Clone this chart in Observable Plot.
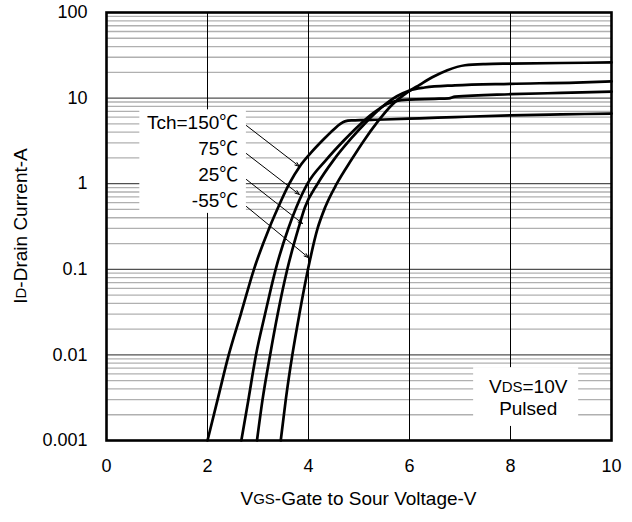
<!DOCTYPE html>
<html><head><meta charset="utf-8">
<script src="https://cdn.jsdelivr.net/npm/d3@7"></script>
<script src="https://cdn.jsdelivr.net/npm/@observablehq/plot@0.6"></script>
<style>body{margin:0;background:#fff}</style>
</head><body><div id="chart"></div>
<script>
// ---- data ----
const xTicks = [0, 2, 4, 6, 8, 10];
const yTicks = [0.001, 0.01, 0.1, 1, 10, 100];
const xGrid = [2, 4, 6, 8];
const minorMultipliers = [2, 3, 4, 5, 6, 7, 8, 9];

const seriesNames = ["150", "75", "25", "-55"];
const vgs150 = [2.00, 2.20, 2.42, 2.66, 2.92, 3.22, 3.40, 3.62, 3.83, 4.05, 4.30, 4.50, 4.63, 4.72, 4.85, 5.5, 6.2, 6.9, 8.0, 9.0, 10.0];
const id150  = [0.001, 0.003, 0.01, 0.03, 0.1, 0.3, 0.53, 1.0, 1.6, 2.3, 3.3, 4.3, 5.0, 5.35, 5.5, 5.62, 5.8, 6.0, 6.3, 6.45, 6.6];
const vgs75  = [2.67, 2.81, 2.96, 3.14, 3.35, 3.60, 3.76, 3.98, 4.35, 4.70, 5.00, 5.30, 5.55, 5.75, 6.0, 6.5, 6.78, 6.9, 8.0, 9.0, 10.0];
const id75   = [0.001, 0.003, 0.01, 0.03, 0.1, 0.3, 0.53, 1.0, 1.9, 3.2, 4.8, 6.8, 8.5, 9.3, 9.6, 9.8, 9.95, 10.4, 11.1, 11.5, 11.9];
const vgs25  = [2.98, 3.09, 3.24, 3.39, 3.58, 3.80, 3.93, 4.18, 4.50, 4.85, 5.15, 5.45, 5.75, 6.0, 6.3, 6.9, 8.0, 9.3, 10.0];
const id25   = [0.001, 0.003, 0.01, 0.03, 0.1, 0.3, 0.53, 1.0, 1.9, 3.4, 5.3, 7.8, 10.5, 12.3, 13.3, 14.1, 14.7, 15.2, 15.7];
const vgsM55 = [3.45, 3.55, 3.68, 3.82, 3.99, 4.18, 4.33, 4.56, 4.85, 5.10, 5.37, 5.65, 5.95, 6.2, 6.45, 6.75, 7.1, 7.5, 8.0, 9.0, 10.0];
const idM55  = [0.001, 0.003, 0.01, 0.03, 0.1, 0.3, 0.53, 1.0, 1.9, 3.2, 5.3, 8.3, 11.6, 14.3, 17.5, 21.2, 24.2, 25.0, 25.3, 25.7, 26.1];

// annotation labels (data units)
const tempLabels = ["Tch=150℃", "75℃", "25℃", "-55℃"];
const labelX = [2.61, 2.61, 2.61, 2.61];
const labelY = [5.09, 2.56, 1.28, 0.637];
const arrowX1 = [2.77, 2.77, 2.77, 2.77];
const arrowY1 = [4.78, 2.25, 1.12, 0.542];
const arrowX2 = [3.82, 3.82, 3.88, 4.0];
const arrowY2 = [1.59, 0.748, 0.343, 0.137];
const legendBox = {x1: 0.66, x2: 2.77, y1: 0.45, y2: 7.3};
const noteBox = {x1: 7.27, x2: 9.35, y1: 0.00146, y2: 0.0071};
const noteX = 8.36, noteY1 = 0.00405, noteY2 = 0.00224;

// ---- build tables ----
const allX = [vgs150, vgs75, vgs25, vgsM55];
const allY = [id150, id75, id25, idM55];
const curves = seriesNames.flatMap((s, k) => allX[k].map((v, i) => ({s, v, id: allY[k][i]})));
const minorY = [];
for (let e = -3; e <= 1; e++) for (const m of minorMultipliers) minorY.push(m * Math.pow(10, e));
const decadeY = yTicks.slice(1, -1);
const labels = tempLabels.map((t, i) => ({t, x: labelX[i], y: labelY[i]}));
const arrows = tempLabels.map((t, i) => ({x1: arrowX1[i], y1: arrowY1[i], x2: arrowX2[i], y2: arrowY2[i]}));

const FONT = "Arial, 'Liberation Sans', 'Noto Sans CJK JP', sans-serif";

const svg = Plot.plot({
  width: 632, height: 522,
  marginLeft: 106, marginRight: 21, marginTop: 12, marginBottom: 82,
  style: {fontFamily: FONT, fontSize: "18px", background: "white", color: "black", overflow: "visible"},
  x: {domain: [0, 10]},
  y: {type: "log", domain: [0.001, 100]},
  marks: [
    Plot.ruleY(minorY, {stroke: "#b0b0b0", strokeWidth: 1.3}),
    Plot.ruleY(decadeY, {stroke: "#505050", strokeWidth: 1.2}),
    Plot.ruleX(xGrid, {stroke: "black", strokeWidth: 1}),
    Plot.rect([legendBox, noteBox], {x1: "x1", x2: "x2", y1: "y1", y2: "y2", fill: "white"}),
    Plot.line(curves, {x: "v", y: "id", z: "s", stroke: "black", strokeWidth: 2.7, curve: "monotone-x", strokeLinejoin: "round"}),
    Plot.arrow(arrows, {x1: "x1", y1: "y1", x2: "x2", y2: "y2", stroke: "black", strokeWidth: 1, headLength: 7, headAngle: 40}),
    Plot.text(labels, {x: "x", y: "y", text: "t", textAnchor: "end", fontSize: 19, fill: "black"}),
    Plot.frame({stroke: "black", strokeWidth: 2.6}),
    Plot.axisX({ticks: xTicks, tickSize: 0, tickPadding: 19, label: null, tickFormat: d => String(d)}),
    Plot.axisY({ticks: yTicks, tickSize: 0, tickPadding: 19, label: null, tickFormat: d => String(d)})
  ]
});
document.getElementById("chart").appendChild(svg);

// titles with small subscripts, positioned through the plot's scales
const sx = svg.scale("x"), sy = svg.scale("y");
const s = d3.select(svg);
const xMid = (sx.apply(0) + sx.apply(10)) / 2;
const yMid = (sy.apply(0.001) + sy.apply(100)) / 2;

const xt = s.append("text").attr("x", xMid).attr("y", 500).attr("text-anchor", "middle")
  .attr("dominant-baseline", "middle").attr("font-family", FONT).attr("font-size", 19).attr("fill", "black");
xt.append("tspan").text("V");
xt.append("tspan").attr("font-size", 15).text("GS");
xt.append("tspan").text("-Gate to Sour Voltage-V");

const yt = s.append("text").attr("transform", `translate(22,${yMid}) rotate(-90)`).attr("text-anchor", "middle")
  .attr("dominant-baseline", "middle").attr("font-family", FONT).attr("font-size", 19).attr("fill", "black");
yt.append("tspan").text("I");
yt.append("tspan").attr("font-size", 15).text("D");
yt.append("tspan").text("-Drain Current-A");

const nt = s.append("text").attr("x", sx.apply(noteX)).attr("y", sy.apply(noteY1)).attr("text-anchor", "middle")
  .attr("dominant-baseline", "middle").attr("font-family", FONT).attr("font-size", 19).attr("fill", "black");
nt.append("tspan").text("V");
nt.append("tspan").attr("font-size", 15).text("DS");
nt.append("tspan").text("=10V");
s.append("text").attr("x", sx.apply(noteX)).attr("y", sy.apply(noteY2)).attr("text-anchor", "middle")
  .attr("dominant-baseline", "middle").attr("font-family", FONT).attr("font-size", 19).attr("fill", "black")
  .text("Pulsed");
</script>
</body></html>
